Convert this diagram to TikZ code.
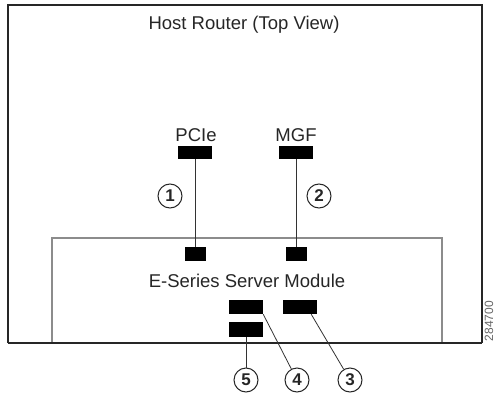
\documentclass[tikz,border=0pt]{standalone}
\usepackage{fontspec}
\setmainfont{Liberation Sans}
\begin{document}
\begin{tikzpicture}[x=1pt,y=-1pt,
  lbl/.style={font=\fontsize{18.5}{20}\selectfont, inner sep=0pt, text=black!85},
  port/.style={fill=black, draw=none, inner sep=0pt, minimum width=34pt, minimum height=13pt},
  sport/.style={fill=black, draw=none, inner sep=0pt, minimum width=21pt, minimum height=14pt},
  callout/.style={circle, draw=black!85, line width=1pt, minimum size=24pt, inner sep=0pt,
    font=\fontsize{17}{17}\selectfont\bfseries, text=black!85},
  leader/.style={draw=black!80, line width=0.8pt}]
\useasboundingbox (0,0) rectangle (497,393);
% outer host router box
\draw[line width=1.5pt, draw=black!85] (8,343) -- (8,5) -- (482,5) -- (482,343);
% inner module box
\draw[line width=1.2pt, draw=black!45] (52,343) -- (52,238) -- (442,238) -- (442,343);
\draw[line width=1.5pt, draw=black!85] (8,343) -- (482,343);
% texts
\node[lbl] (title) at (244,25) {Host Router (Top View)};
\node[lbl] (pcie) at (196,135) {PCIe};
\node[lbl] (mgf) at (296,135) {MGF};
\node[lbl] (esm) at (247,280.5) {E-Series Server Module};
% ports
\node[port] (p1) at (195,152.5) {};
\node[port] (p2) at (296,152.5) {};
\node[sport] (s1) at (195,254) {};
\node[sport] (s2) at (296,254) {};
\node[port, minimum height=14pt] (r4) at (246,307) {};
\node[port, minimum height=14pt] (r3) at (300,307) {};
\node[port, minimum height=15pt] (r5) at (246,329.5) {};
% connectors
\draw[leader] (p1.south) -- (s1.north);
\draw[leader] (p2.south) -- (s2.north);
% callouts
\node[callout] (c1) at (170,196) {1};
\node[callout] (c2) at (319,196) {2};
\node[callout] (c5) at (246,380) {5};
\node[callout] (c4) at (297,380) {4};
\node[callout] (c3) at (350,380) {3};
\draw[leader] (r5.south) -- (c5);
\draw[leader] (r4.south east) -- (c4);
\draw[leader] ([xshift=-6pt]r3.south east) -- (c3);
% figure number
\node[rotate=90, font=\fontsize{12}{12}\selectfont, text=black!60, inner sep=0pt] (fig) at (489,321) {284700};
\end{tikzpicture}
\end{document}
